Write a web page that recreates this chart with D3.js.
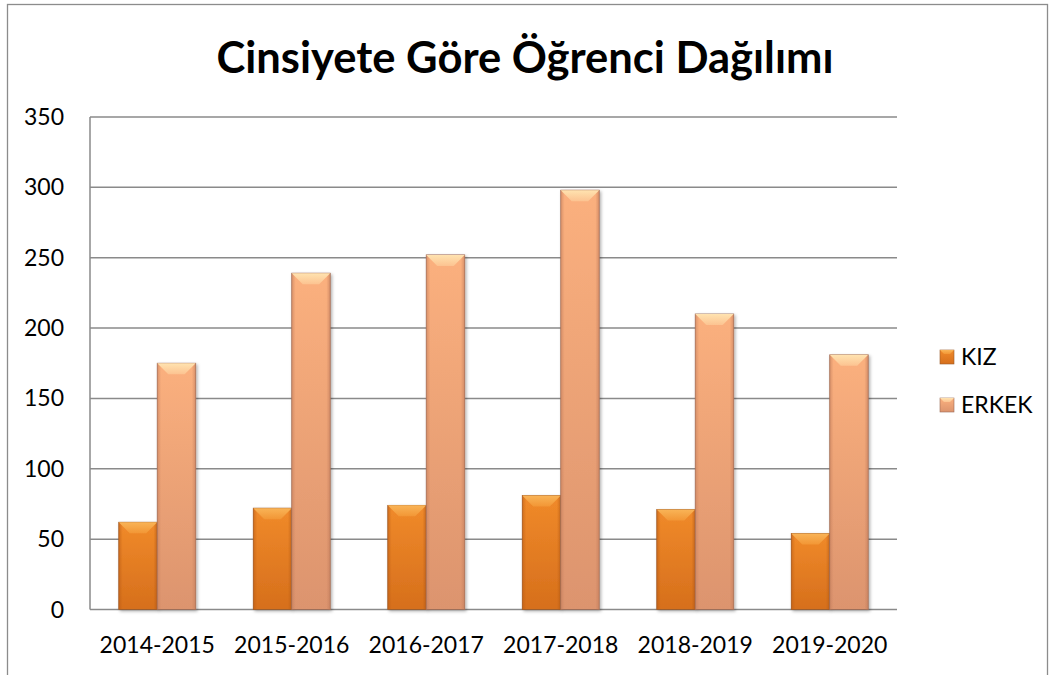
<!DOCTYPE html>
<html><head><meta charset="utf-8">
<script src="https://cdn.jsdelivr.net/npm/d3@7"></script>
<style>body{margin:0;background:#fff}svg{display:block}</style>
</head><body>
<svg id="c" width="1052" height="675"></svg>
<script>
const categories = ["2014-2015","2015-2016","2016-2017","2017-2018","2018-2019","2019-2020"];
const kiz = [62, 72, 74, 81, 71, 54];
const erkek = [175, 239, 252, 298, 210, 181];
const seriesNames = ["KIZ","ERKEK"];
const yTicks = [0,50,100,150,200,250,300,350];
const titleText = "Cinsiyete Göre Öğrenci Dağılımı";

const svg = d3.select("#c");
const font = "Lato, 'Open Sans', sans-serif";
const m = {left:90, right:897, top:117, bottom:609.5};

svg.append("rect").attr("x",7.5).attr("y",4.5).attr("width",1040).attr("height",720)
  .attr("fill","#fff").attr("stroke","#8c8c8c").attr("stroke-width",1.3);

const x = d3.scaleBand().domain(categories).range([m.left,m.right]).paddingInner(0.428).paddingOuter(0.214);
const xs = d3.scaleBand().domain(seriesNames).range([0,x.bandwidth()]);
const y = d3.scaleLinear().domain([0,350]).range([m.bottom,m.top]);

const defs = svg.append("defs");
const palettes = {
  KIZ:{top:"#f08a2a",bot:"#d66f1c",bevel:"#f9b457",bevel2:"#f29635",edge:"#b85a14",stroke:"#9a5a2a"},
  ERKEK:{top:"#fbb07e",bot:"#dc946e",bevel:"#ffe3b0",bevel2:"#fcc391",edge:"#c07a5a",stroke:"#9a6a55"}
};
seriesNames.forEach(s=>{
  const p=palettes[s];
  const g=defs.append("linearGradient").attr("id","g"+s).attr("x1",0).attr("y1",0).attr("x2",0).attr("y2",1);
  g.append("stop").attr("offset","0%").attr("stop-color",p.top);
  g.append("stop").attr("offset","100%").attr("stop-color",p.bot);
  const h=defs.append("linearGradient").attr("id","h"+s).attr("x1",0).attr("y1",0).attr("x2",1).attr("y2",0);
  h.append("stop").attr("offset","0%").attr("stop-color",p.edge).attr("stop-opacity",0.55);
  h.append("stop").attr("offset","10%").attr("stop-color",p.edge).attr("stop-opacity",0);
  h.append("stop").attr("offset","90%").attr("stop-color",p.edge).attr("stop-opacity",0);
  h.append("stop").attr("offset","100%").attr("stop-color",p.edge).attr("stop-opacity",0.6);
  const b=defs.append("linearGradient").attr("id","b"+s).attr("x1",0).attr("y1",0).attr("x2",0).attr("y2",1);
  b.append("stop").attr("offset","0%").attr("stop-color",p.bevel);
  b.append("stop").attr("offset","100%").attr("stop-color",p.bevel2);
});
const f=defs.append("filter").attr("id","sh").attr("x","-20%").attr("y","-20%").attr("width","140%").attr("height","140%");
f.append("feDropShadow").attr("dx",1.5).attr("dy",1.5).attr("stdDeviation",1.5).attr("flood-color","#000").attr("flood-opacity",0.3);

svg.append("g").selectAll("line").data(yTicks.filter(t=>t>0)).join("line")
  .attr("x1",m.left).attr("x2",m.right).attr("y1",d=>y(d)).attr("y2",d=>y(d))
  .attr("stroke","#8a8a8a").attr("stroke-width",1.5);
svg.append("line").attr("x1",m.left).attr("x2",m.left).attr("y1",m.top).attr("y2",m.bottom).attr("stroke","#8a8a8a").attr("stroke-width",1.5);
svg.append("line").attr("x1",m.left).attr("x2",m.right).attr("y1",m.bottom).attr("y2",m.bottom).attr("stroke","#8a8a8a").attr("stroke-width",1.5);

svg.append("g").selectAll("text").data(yTicks).join("text")
  .attr("x",64).attr("y",d=>y(d)).attr("dy","0.35em").attr("text-anchor","end")
  .attr("font-family",font).attr("font-size",23).attr("fill","#000").text(d=>d);
svg.append("g").selectAll("text").data(categories).join("text")
  .attr("x",d=>x(d)+x.bandwidth()/2).attr("y",653).attr("text-anchor","middle")
  .attr("font-family",font).attr("font-size",23).attr("fill","#000").text(d=>d);

const data = [];
categories.forEach((c,i)=>{data.push({c,s:"KIZ",v:kiz[i]});data.push({c,s:"ERKEK",v:erkek[i]});});
const bars = svg.append("g").selectAll("g").data(data).join("g");
bars.each(function(d){
  const g=d3.select(this);
  const bx=x(d.c)+xs(d.s), bw=xs.bandwidth(), by=y(d.v), bh=y(0)-y(d.v);
  const p=palettes[d.s];
  g.append("rect").attr("x",bx).attr("y",by).attr("width",bw).attr("height",bh)
    .attr("fill",`url(#g${d.s})`).attr("stroke",p.stroke).attr("stroke-width",0.8).attr("filter","url(#sh)");
  g.append("rect").attr("x",bx).attr("y",by).attr("width",bw).attr("height",bh).attr("fill",`url(#h${d.s})`);
  const bev=Math.min(11,bh/2);
  g.append("path").attr("d",`M${bx},${by}L${bx+bw},${by}L${bx+bw-bev},${by+bev}L${bx+bev},${by+bev}Z`)
    .attr("fill",`url(#b${d.s})`);
});

svg.append("text").attr("x",525).attr("y",73).attr("text-anchor","middle")
  .attr("font-family",font).attr("font-weight","bold").attr("font-size",43.5).attr("fill","#000").text(titleText);

const lg=svg.append("g").selectAll("g").data(seriesNames).join("g")
  .attr("transform",(d,i)=>`translate(940,${357+i*48})`);
lg.append("rect").attr("x",0).attr("y",-7).attr("width",14).attr("height",14)
  .attr("fill",d=>`url(#g${d})`).attr("stroke",d=>palettes[d].stroke).attr("stroke-width",0.6);
lg.append("path").attr("d","M0,-7L14,-7L10,-3L4,-3Z").attr("fill",d=>`url(#b${d})`);
lg.append("text").attr("x",21).attr("y",0).attr("dy","0.35em").attr("font-family",font).attr("font-size",23).attr("fill","#000").text(d=>d);
</script>
</body></html>
